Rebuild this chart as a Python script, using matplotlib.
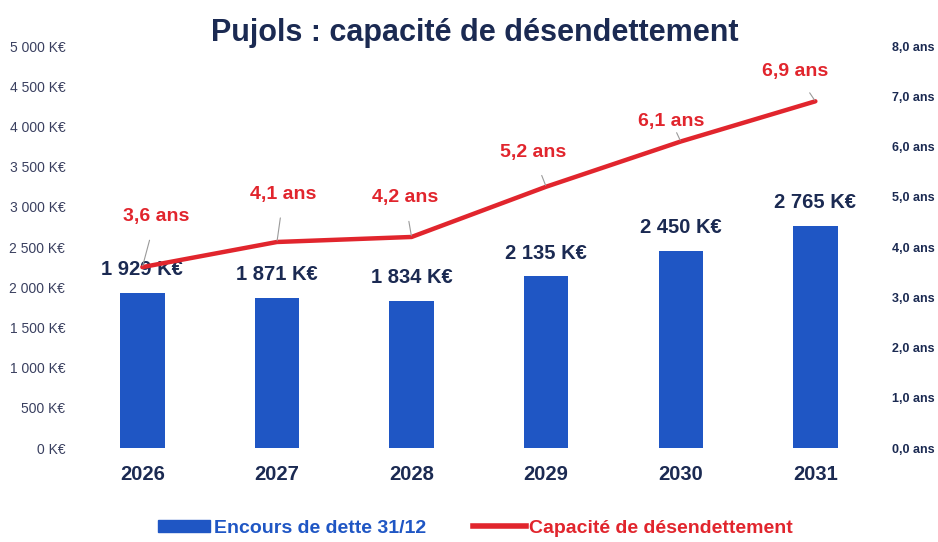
import numpy as np
import matplotlib
matplotlib.use('Agg')
import matplotlib.pyplot as plt
from matplotlib.patches import Patch
from matplotlib.lines import Line2D

plt.rcParams['font.family'] = ['Liberation Sans', 'DejaVu Sans']

annees = ['2026', '2027', '2028', '2029', '2030', '2031']
encours = [1929, 1871, 1834, 2135, 2450, 2765]
capacite = [3.6, 4.1, 4.2, 5.2, 6.1, 6.9]
encours_labels = ['1 929 K€', '1 871 K€', '1 834 K€', '2 135 K€', '2 450 K€', '2 765 K€']
capacite_labels = ['3,6 ans', '4,1 ans', '4,2 ans', '5,2 ans', '6,1 ans', '6,9 ans']
left_ticks = [0, 500, 1000, 1500, 2000, 2500, 3000, 3500, 4000, 4500, 5000]
left_labels = ['0 K€', '500 K€', '1 000 K€', '1 500 K€', '2 000 K€', '2 500 K€',
               '3 000 K€', '3 500 K€', '4 000 K€', '4 500 K€', '5 000 K€']
right_ticks = [0, 1, 2, 3, 4, 5, 6, 7, 8]
right_labels = ['0,0 ans', '1,0 ans', '2,0 ans', '3,0 ans', '4,0 ans', '5,0 ans',
                '6,0 ans', '7,0 ans', '8,0 ans']

bleu = '#1f56c4'
rouge = '#e1252d'
navy = '#1b2a52'

fig = plt.figure(figsize=(9.38, 5.42), dpi=100)
ax = fig.add_axes([0.080, 0.1734, 0.861, 0.7417])
x = np.arange(len(annees))

ax.bar(x, encours, width=0.33, color=bleu, zorder=2)
for i in range(len(x)):
    ax.text(x[i], encours[i] + 170, encours_labels[i], ha='center', va='bottom',
            fontsize=14.5, fontweight='bold', color=navy, zorder=5)

ax.set_xlim(-0.5, 5.5)
ax.set_ylim(0, 5000)
ax.set_yticks(left_ticks)
ax.set_yticklabels(left_labels, fontsize=10, color='#3a4060')
ax.set_xticks(x)
ax.set_xticklabels(annees, fontsize=14.5, fontweight='bold', color=navy)
ax.tick_params(axis='y', length=0, pad=7)
ax.tick_params(axis='x', length=0, pad=12)
for s in ax.spines.values():
    s.set_visible(False)

ax2 = ax.twinx()
ax2.plot(x, capacite, color=rouge, linewidth=3.2, zorder=3, solid_capstyle='round')
ax2.set_ylim(0, 8)
ax2.set_yticks(right_ticks)
ax2.set_yticklabels(right_labels, fontsize=9, fontweight='bold', color=navy)
ax2.tick_params(axis='y', length=0, pad=7)
for s in ax2.spines.values():
    s.set_visible(False)

# decalage des etiquettes (en annees / points)
offsets = [(0.1, 1.0), (0.05, 0.95), (-0.05, 0.78), (-0.1, 0.68), (-0.07, 0.4), (-0.15, 0.6)]
for i in range(len(x)):
    ax2.annotate(capacite_labels[i], xy=(x[i], capacite[i]),
                 xytext=(x[i] + offsets[i][0], capacite[i] + offsets[i][1]),
                 ha='center', va='center', fontsize=14, fontweight='bold', color=rouge,
                 arrowprops=dict(arrowstyle='-', color='#9a9a9a', lw=0.8,
                                 shrinkA=9, shrinkB=1))

ax.set_zorder(1)
ax2.set_zorder(2)
ax.patch.set_visible(False)

fig.text(0.506, 0.94, 'Pujols : capacité de désendettement', ha='center', va='center',
         fontsize=22, fontweight='bold', color=navy)

handles = [Patch(color=bleu), Line2D([0], [0], color=rouge, linewidth=4)]
leg = fig.legend(handles, ['Encours de dette 31/12', 'Capacité de désendettement'],
                 loc='center', bbox_to_anchor=(0.507, 0.025), ncol=2, frameon=False,
                 fontsize=14, handlelength=2.7, handleheight=0.6, columnspacing=2.4,
                 handletextpad=0.2)
for t, c in zip(leg.get_texts(), [bleu, rouge]):
    t.set_color(c)
    t.set_fontweight('bold')

fig.savefig('out.png', dpi=100)
